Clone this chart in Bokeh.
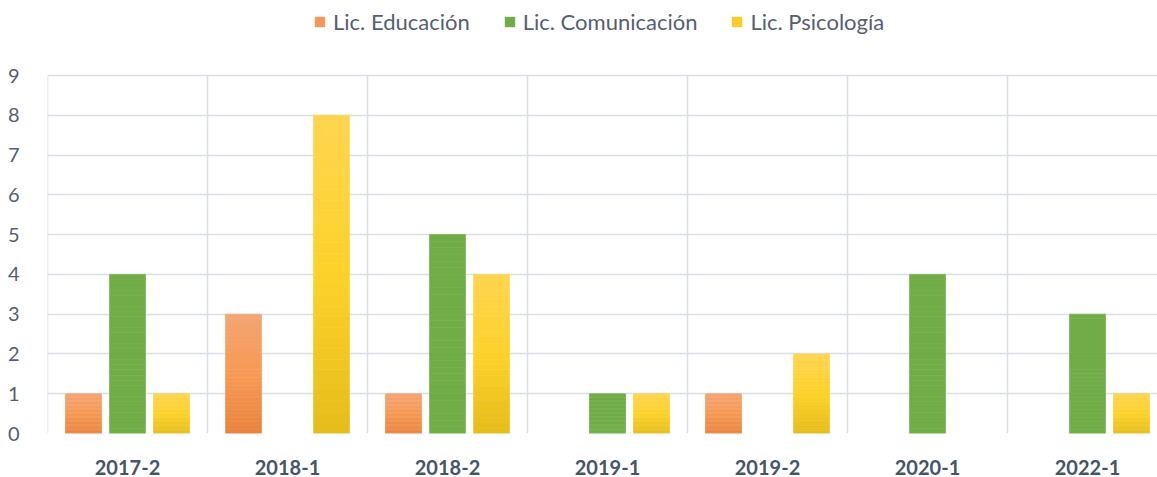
from bokeh.plotting import figure
from bokeh.models import Range1d, FixedTicker, Legend, LegendItem, ColumnDataSource
from bokeh.embed import file_html
from bokeh.resources import INLINE

categories = ["2017-2", "2018-1", "2018-2", "2019-1", "2019-2", "2020-1", "2022-1"]
educacion = [1, 3, 1, 0, 1, 0, 0]
comunicacion = [4, 0, 5, 1, 0, 4, 3]
psicologia = [1, 8, 4, 1, 2, 0, 1]
series_names = ["Lic. Educación", "Lic. Comunicación", "Lic. Psicología"]
y_ticks = [0, 1, 2, 3, 4, 5, 6, 7, 8, 9]

# gradient stops (bottom, middle, top)
grad = {
    "Lic. Educación": ["#E8843E", "#F79A54", "#F3A574"],
    "Lic. Comunicación": ["#70AD47", "#70AD47", "#70AD47"],
    "Lic. Psicología": ["#E6BC1C", "#FDD22A", "#FFD550"],
}
mid = {"Lic. Educación": "#F4975A", "Lic. Comunicación": "#70AD47", "Lic. Psicología": "#FCCD2A"}


def hex2rgb(h):
    h = h.lstrip("#")
    return tuple(int(h[i:i + 2], 16) for i in (0, 2, 4))


def interp(stops, t):
    if t <= 0.5:
        a, b, u = stops[0], stops[1], t / 0.5
    else:
        a, b, u = stops[1], stops[2], (t - 0.5) / 0.5
    ra, rb = hex2rgb(a), hex2rgb(b)
    c = [round(ra[i] + (rb[i] - ra[i]) * u) for i in range(3)]
    return "#%02x%02x%02x" % tuple(c)


W, H = 1157, 477
frame_top_px = 75      # where the value 9 sits
frame_bottom_px = 433  # where the value 0 sits
y_max = max(y_ticks)
y_end = y_max * frame_bottom_px / (frame_bottom_px - frame_top_px)

p = figure(width=W, height=H, output_backend="svg", toolbar_location=None,
           x_range=Range1d(-0.5, -0.5 + 1110 / 160), y_range=Range1d(0, y_end),
           min_border_left=47, min_border_right=0, min_border_bottom=H - frame_bottom_px, min_border_top=0)
p.outline_line_color = None
p.background_fill_color = "white"
p.border_fill_color = "white"

grid_col = "#DADEE6"
# vertical category separators (only up to the top value)
bounds = [i - 0.5 for i in range(len(categories) + 1)]
p.segment(x0=bounds, x1=bounds, y0=[0] * len(bounds), y1=[y_max] * len(bounds),
          line_color=grid_col, line_width=1.6)
p.xgrid.grid_line_color = None
p.ygrid.ticker = FixedTicker(ticks=y_ticks)
p.ygrid.grid_line_color = grid_col
p.ygrid.grid_line_width = 1.6

N = 30
bw = 0.225
offsets = [-0.275, 0.0, 0.275]
legend_items = []
for s_i, (name, vals) in enumerate(zip(series_names, [educacion, comunicacion, psicologia])):
    xs, bots, tops, cols = [], [], [], []
    for c_i, v in enumerate(vals):
        if v <= 0:
            continue
        for k in range(N):
            xs.append(c_i + offsets[s_i])
            bots.append(v * k / N)
            tops.append(v * (k + 1) / N)
            cols.append(interp(grad[name], (k + 0.5) / N))
    src = ColumnDataSource(dict(x=xs, bottom=bots, top=tops, color=cols))
    p.vbar(x="x", bottom="bottom", top="top", width=bw, source=src,
           fill_color="color", line_color="color", line_width=0.6)
    dummy = p.vbar(x=[0], top=[0], bottom=[0], width=0, fill_color=mid[name], line_color=None)
    legend_items.append(LegendItem(label=name, renderers=[dummy]))

p.xaxis.ticker = FixedTicker(ticks=list(range(len(categories))))
p.xaxis.major_label_overrides = {i: c for i, c in enumerate(categories)}
p.xaxis.axis_line_color = None
p.xaxis.major_tick_line_color = None
p.xaxis.minor_tick_line_color = None
p.xaxis.major_label_text_font = "Lato"
p.xaxis.major_label_text_font_style = "bold"
p.xaxis.major_label_text_font_size = "20px"
p.xaxis.major_label_text_color = "#44546A"
p.xaxis.major_label_standoff = 20

p.yaxis.ticker = FixedTicker(ticks=y_ticks)
p.yaxis.axis_line_color = None
p.yaxis.major_tick_line_color = None
p.yaxis.minor_tick_line_color = None
p.yaxis.major_label_text_font = "Lato"
p.yaxis.major_label_text_font_size = "20px"
p.yaxis.major_label_text_color = "#556070"
p.yaxis.major_label_standoff = 22

legend = Legend(items=legend_items, orientation="horizontal", location=(266, 398),
                label_text_font="Lato", label_text_font_size="22px", label_text_color="#556070",
                glyph_width=13, glyph_height=13, spacing=33, label_standoff=7,
                border_line_color=None, background_fill_alpha=0, padding=0, margin=0)
p.add_layout(legend, "center")

open("out.html", "w").write(file_html(p, INLINE))
